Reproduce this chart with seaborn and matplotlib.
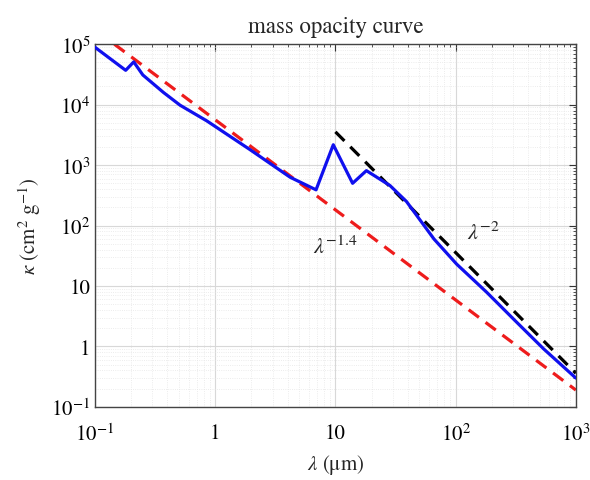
import numpy as np
import pandas as pd
import seaborn as sns
import matplotlib
matplotlib.use("Agg")
import matplotlib.pyplot as plt
from matplotlib.ticker import LogLocator, FixedLocator, FixedFormatter, NullFormatter

# Data
wavelength_um = [0.1, 0.18, 0.21, 0.25, 0.37, 0.51, 0.85, 1.95, 4.2, 6.9, 9.6,
                 13.9, 18.1, 28.4, 39, 66, 102, 181, 323, 540, 1000]
kappa = [8.9e4, 3.7e4, 5.1e4, 3.1e4, 1.6e4, 9.8e3, 5.4e3, 1.8e3, 6.3e2, 3.9e2, 2.17e3,
         5.0e2, 8.1e2, 4.6e2, 2.5e2, 60, 23, 7.9, 2.5, 0.91, 0.30]
red_x = [0.145, 1000]
red_y = [1.0e5, 0.19]
black_x = [10, 1000]
black_y = [3550, 0.36]

x_ticks = [0.1, 1, 10, 100, 1000]
x_labels = [r"$10^{-1}$", "1", "10", r"$10^{2}$", r"$10^{3}$"]
y_ticks = [0.1, 1, 10, 100, 1e3, 1e4, 1e5]
y_labels = [r"$10^{-1}$", "1", "10", r"$10^{2}$", r"$10^{3}$", r"$10^{4}$", r"$10^{5}$"]

sns.set_theme(style="white")
plt.rcParams["font.family"] = ["STIXGeneral", "DejaVu Serif"]
plt.rcParams["mathtext.fontset"] = "stix"

fig = plt.figure(figsize=(5.9, 4.81), dpi=100)
ax = fig.add_axes([0.161, 0.152, 0.815, 0.754])

curve = pd.DataFrame({"x": wavelength_um, "y": kappa})
sns.lineplot(data=curve, x="x", y="y", ax=ax, color="#1010ee", lw=2.3, sort=False, zorder=3)
sns.lineplot(x=red_x, y=red_y, ax=ax, color="#ee1c1c", lw=2.3, zorder=2)
sns.lineplot(x=black_x, y=black_y, ax=ax, color="black", lw=2.3, zorder=2)
ax.lines[1].set_dashes([4, 2.6])
ax.lines[2].set_dashes([4, 2.6])

ax.set_xscale("log")
ax.set_yscale("log")
ax.set_xlim(0.1, 1000)
ax.set_ylim(0.1, 1e5)

ax.xaxis.set_major_locator(FixedLocator(x_ticks))
ax.xaxis.set_major_formatter(FixedFormatter(x_labels))
ax.yaxis.set_major_locator(FixedLocator(y_ticks))
ax.yaxis.set_major_formatter(FixedFormatter(y_labels))
ax.xaxis.set_minor_locator(LogLocator(base=10, subs=np.arange(2, 10)))
ax.yaxis.set_minor_locator(LogLocator(base=10, subs=np.arange(2, 10)))
ax.xaxis.set_minor_formatter(NullFormatter())
ax.yaxis.set_minor_formatter(NullFormatter())

ax.tick_params(which="both", direction="in", top=True, right=True, colors="#333333",
               labelcolor="black", labelsize=15)
ax.tick_params(which="major", length=5, width=0.8)
ax.tick_params(which="minor", length=2.5, width=0.6)
ax.tick_params(axis="x", which="major", pad=12)

ax.grid(True, which="major", color="#d8d8d8", lw=0.8)
ax.grid(True, which="minor", color="#e6e6e6", lw=0.6, ls=":")
ax.set_axisbelow(True)
for s in ax.spines.values():
    s.set_color("#444444")
    s.set_linewidth(1.0)

ax.set_xlabel(r"$\lambda$ (μm)", fontsize=15, labelpad=5)
ax.set_ylabel(r"$\kappa$ (cm$^2$ g$^{-1}$)", fontsize=15, labelpad=6)
ax.set_title("mass opacity curve", fontsize=16.5, pad=9)

ax.text(10, 44, r"$\lambda^{-1.4}$", fontsize=16, ha="center", va="center")
ax.text(169, 75, r"$\lambda^{-2}$", fontsize=16, ha="center", va="center")

fig.savefig("out.png", dpi=100)
